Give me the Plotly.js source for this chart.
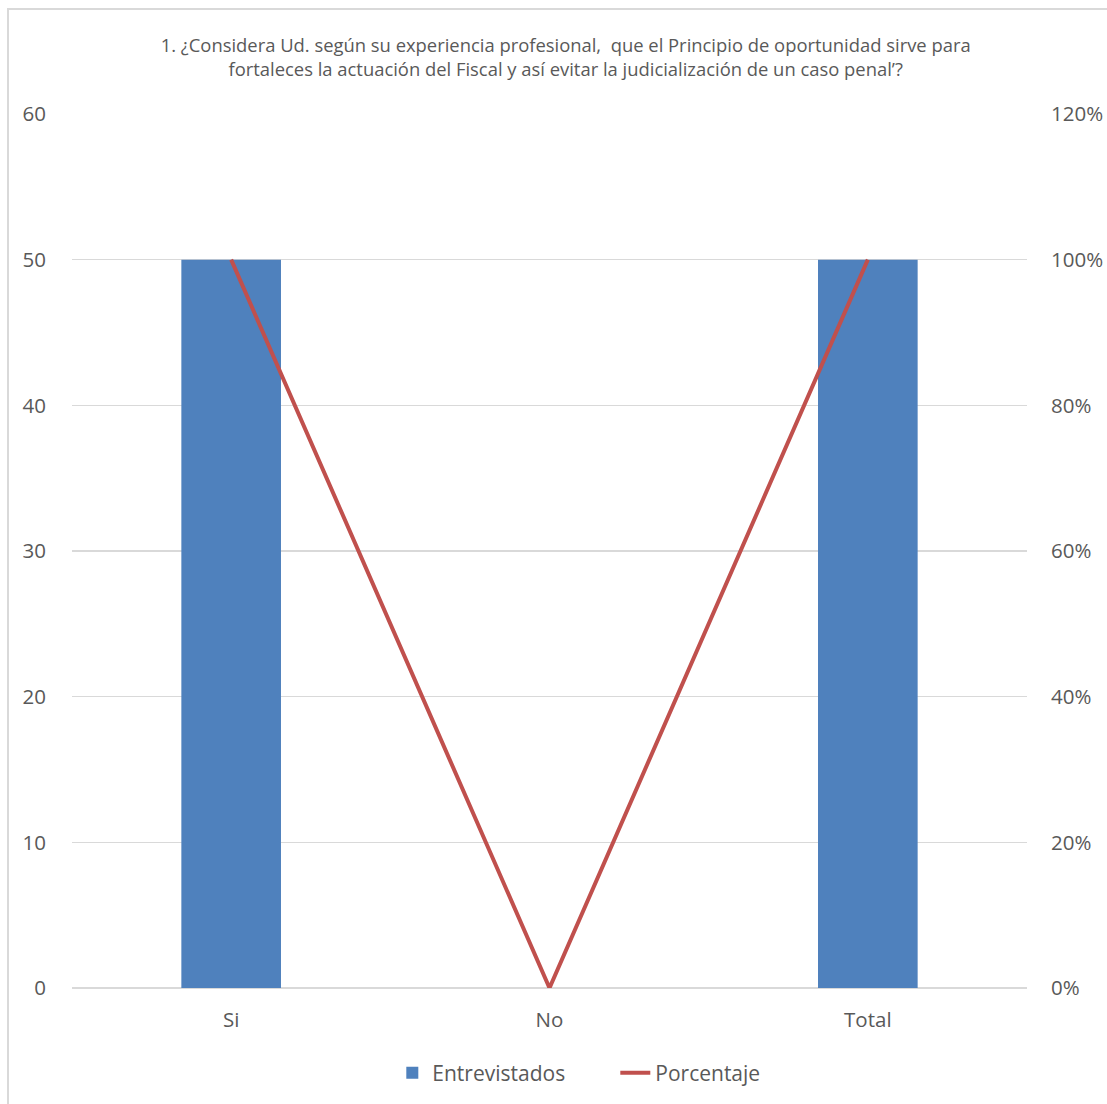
<!DOCTYPE html>
<html>
<head>
<meta charset="utf-8">
<script src="https://cdn.plot.ly/plotly-3.0.1.min.js"></script>
<style>
html,body{margin:0;padding:0;background:#fff;overflow:hidden;}
#frame{position:absolute;left:7px;top:8px;width:1200px;height:1200px;border:2px solid #d9d9d9;box-sizing:border-box;}
#chart{position:absolute;left:0;top:0;width:1107px;height:1104px;}
</style>
</head>
<body>
<div id="frame"></div>
<div id="chart"></div>
<script>
const categories = ['Si', 'No', 'Total'];
const entrevistados = [50, 0, 50];
const porcentaje = [1.0, 0.0, 1.0];
const leftTicks = [0, 10, 20, 30, 40, 50, 60];
const rightTicks = [0, 0.2, 0.4, 0.6, 0.8, 1.0, 1.2];
const titleText = '1. ¿Considera Ud. según su experiencia profesional,  que el Principio de oportunidad sirve para<br>fortaleces la actuación del Fiscal y así evitar la judicialización de un caso penal’?';

const fontFam = 'Open Sans, Liberation Sans, sans-serif';
const txt = '#595959';

const data = [
  {type:'bar', name:'Entrevistados', x:categories, y:entrevistados, width:0.313,
   marker:{color:'#4f81bd'}, yaxis:'y'},
  {type:'scatter', mode:'lines', name:'Porcentaje', x:categories, y:porcentaje,
   line:{color:'#c0504d', width:4}, yaxis:'y2'}
];

const layout = {
  width:1107, height:1104,
  paper_bgcolor:'rgba(0,0,0,0)', plot_bgcolor:'rgba(0,0,0,0)',
  margin:{l:72, r:80, t:114, b:115},
  font:{family:fontFam, color:txt},
  title:{text:titleText, xref:'container', x:0.511, xanchor:'center', yref:'container', y:0.953, yanchor:'middle',
         font:{size:18.4, color:txt, family:fontFam}},
  showlegend:true,
  legend:{orientation:'h', x:0.3354, xanchor:'left', y:-0.096, yanchor:'middle',
          font:{size:21, color:txt}, entrywidth:178, entrywidthmode:'pixels', traceorder:'normal'},
  xaxis:{type:'category', showgrid:false, zeroline:false, showline:false,
         ticks:'outside', ticklen:13, tickcolor:'rgba(0,0,0,0)',
         tickfont:{size:20.5, color:txt}},
  yaxis:{range:[0,60], tickvals:leftTicks, showgrid:true, gridcolor:'#d9d9d9', gridwidth:1.5,
         zeroline:true, zerolinecolor:'#d9d9d9', zerolinewidth:1.5, showline:false,
         ticks:'outside', ticklen:21, tickcolor:'rgba(0,0,0,0)',
         tickfont:{size:20.5, color:txt}},
  yaxis2:{range:[0,1.2], tickvals:rightTicks, tickformat:'.0%', overlaying:'y', side:'right',
          showgrid:false, zeroline:false, showline:false,
          ticks:'outside', ticklen:19, tickcolor:'rgba(0,0,0,0)',
          tickfont:{size:20.5, color:txt}}
};

Plotly.newPlot('chart', data, layout, {displayModeBar:false, staticPlot:true});
</script>
</body>
</html>
